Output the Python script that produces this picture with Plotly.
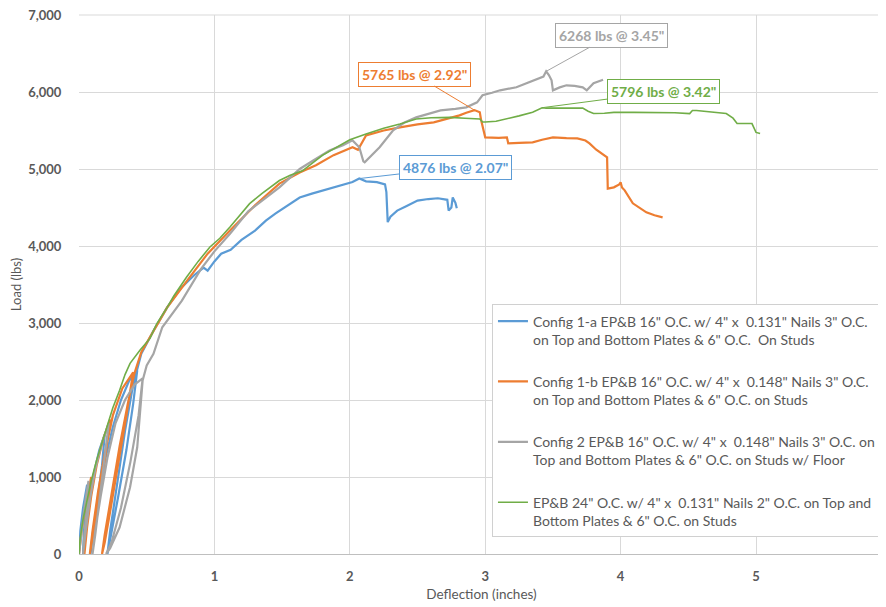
import plotly.graph_objects as go

# ---------------- data ----------------
blue_x = [0, 0.01, 0.03, 0.06, 0.05, 0.035, 0.03,
          0.04, 0.07, 0.11, 0.15, 0.19, 0.17, 0.13, 0.10, 0.085,
          0.10, 0.14, 0.19, 0.25, 0.31, 0.37, 0.43, 0.40, 0.35, 0.29, 0.24, 0.21,
          0.23, 0.28, 0.34, 0.40, 0.46, 0.55, 0.65, 0.75, 0.85, 0.92, 0.95, 1.00,
          1.05, 1.12, 1.20, 1.30, 1.38, 1.45, 1.55, 1.63, 1.72, 1.80, 1.88, 1.95,
          2.02, 2.07, 2.12, 2.20, 2.26, 2.27, 2.28, 2.30, 2.35, 2.42, 2.50, 2.58,
          2.65, 2.72, 2.73, 2.75, 2.76, 2.78, 2.79]
blue_y = [0, 300, 600, 900, 600, 250, 0,
          250, 650, 1050, 1350, 1550, 1150, 600, 200, 0,
          250, 700, 1200, 1650, 2000, 2250, 2385, 1950, 1350, 750, 300, 0,
          300, 900, 1600, 2200, 2600, 2900, 3200, 3450, 3620, 3720, 3680, 3800,
          3900, 3950, 4080, 4200, 4330, 4420, 4540, 4630, 4680, 4720, 4760, 4800,
          4830, 4876, 4840, 4830, 4800, 4700, 4310, 4380, 4460, 4520, 4590, 4610,
          4620, 4600, 4460, 4500, 4630, 4560, 4490]

orange_x = [0, 0.02, 0.05, 0.09, 0.07, 0.05, 0.04,
            0.06, 0.09, 0.13, 0.18, 0.23, 0.19, 0.14, 0.10, 0.08,
            0.10, 0.14, 0.19, 0.25, 0.32, 0.40, 0.35, 0.29, 0.23, 0.19, 0.17,
            0.19, 0.24, 0.30, 0.36, 0.41, 0.46, 0.55, 0.65, 0.80, 0.95, 1.115, 1.30,
            1.48, 1.63, 1.75, 1.88, 2.02, 2.06, 2.12, 2.25, 2.37, 2.50, 2.62, 2.72,
            2.81, 2.86, 2.92, 2.96, 2.97, 3.00, 3.10, 3.16, 3.17, 3.25, 3.35, 3.42,
            3.50, 3.60, 3.68, 3.74, 3.77, 3.82, 3.86, 3.90, 3.905, 3.95, 3.99, 4.00,
            4.01, 4.03, 4.09, 4.14, 4.19, 4.25, 4.31]
orange_y = [0, 300, 650, 1000, 650, 300, 0,
            350, 750, 1150, 1500, 1750, 1200, 600, 200, 0,
            300, 800, 1300, 1800, 2150, 2360, 1800, 1150, 550, 150, 0,
            250, 800, 1400, 1950, 2350, 2620, 2900, 3200, 3554, 3900, 4200, 4530,
            4810, 4955, 5050, 5180, 5282, 5250, 5435, 5500, 5541, 5580, 5606, 5650,
            5697, 5730, 5765, 5736, 5632, 5411, 5405, 5411, 5333, 5340, 5346, 5380,
            5411, 5400, 5398, 5370, 5333, 5250, 5200, 5150, 4746, 4762, 4800, 4827,
            4760, 4723, 4554, 4490, 4437, 4400, 4372]

gray_x = [0, 0.02, 0.04, 0.07, 0.06, 0.04, 0.03,
          0.05, 0.08, 0.12, 0.17, 0.22, 0.19, 0.15, 0.12, 0.10,
          0.12, 0.16, 0.21, 0.27, 0.34, 0.41, 0.47, 0.44, 0.38, 0.31, 0.24, 0.20,
          0.23, 0.30, 0.377, 0.43, 0.47, 0.50, 0.55, 0.615, 0.76, 0.90, 1.00, 1.115,
          1.25, 1.48, 1.63, 1.73, 1.85, 1.95, 2.02, 2.07, 2.10, 2.11, 2.16, 2.22,
          2.32, 2.40, 2.49, 2.58, 2.67, 2.78, 2.86, 2.94, 2.98, 3.05, 3.11, 3.23,
          3.32, 3.40, 3.43, 3.45, 3.47, 3.49, 3.50, 3.55, 3.60, 3.66, 3.72, 3.75,
          3.78, 3.80, 3.86, 3.87]
gray_y = [0, 300, 600, 950, 600, 250, 0,
          300, 700, 1100, 1450, 1700, 1250, 700, 250, 0,
          300, 750, 1250, 1700, 2000, 2200, 2280, 1800, 1200, 600, 150, 0,
          75, 347, 867, 1386, 2254, 2450, 2600, 2945, 3290, 3700, 3930, 4160,
          4450, 4762, 5000, 5110, 5240, 5310, 5372, 5282, 5100, 5087, 5180, 5282,
          5502, 5600, 5671, 5720, 5762, 5780, 5801, 5866, 5957, 5990, 6022, 6061,
          6120, 6178, 6200, 6268, 6220, 6152, 6022, 6060, 6087, 6080, 6061, 6022,
          6070, 6113, 6152, 6160]

green_x = [0, 0.007, 0.03, 0.057, 0.09, 0.13, 0.17, 0.204, 0.25, 0.30, 0.34, 0.377,
           0.45, 0.524, 0.574, 0.65, 0.70, 0.795, 0.88, 0.967, 1.04, 1.115, 1.19, 1.26,
           1.35, 1.48, 1.56, 1.65, 1.80, 1.90, 2.00, 2.12, 2.25, 2.37, 2.49, 2.60,
           2.74, 2.85, 2.96, 2.98, 3.00, 3.08, 3.16, 3.25, 3.35, 3.42, 3.45, 3.55,
           3.65, 3.72, 3.76, 3.80, 3.88, 3.95, 4.10, 4.31, 4.40, 4.51, 4.53, 4.56,
           4.65, 4.78, 4.83, 4.86, 4.97, 5.00, 5.03]
green_y = [0, 177, 450, 697, 950, 1217, 1450, 1650, 1900, 2126, 2330, 2476,
           2645, 2800, 2990, 3200, 3350, 3597, 3800, 3987, 4100, 4247, 4400, 4550,
           4680, 4850, 4920, 4977, 5180, 5280, 5380, 5455, 5530, 5585, 5650, 5665,
           5670, 5660, 5650, 5610, 5610, 5620, 5650, 5690, 5736, 5796, 5790, 5790,
           5790, 5790, 5750, 5720, 5725, 5736, 5736, 5736, 5730, 5720, 5760, 5760,
           5740, 5720, 5660, 5590, 5590, 5475, 5460]

series_names = [
    'Config 1-a EP&B 16" O.C. w/ 4" x  0.131" Nails 3" O.C.<br>on Top and Bottom Plates & 6" O.C.  On Studs',
    'Config 1-b EP&B 16" O.C. w/ 4" x  0.148" Nails 3" O.C.<br>on Top and Bottom Plates & 6" O.C. on Studs',
    'Config 2 EP&B 16" O.C. w/ 4" x  0.148" Nails 3" O.C. on<br>Top and Bottom Plates & 6" O.C. on Studs w/ Floor',
    'EP&B 24" O.C. w/ 4" x  0.131" Nails 2" O.C. on Top and<br>Bottom Plates & 6" O.C. on Studs',
]
colors = ["#5B9BD5", "#ED7D31", "#A5A5A5", "#70AD47"]
widths = [2.2, 2.2, 2.2, 1.6]

# peak callouts: (x, y, label, series index, ax, ay)
peaks = [
    (2.07, 4876, '4876 lbs @ 2.07"', 0, 96, -11),
    (2.92, 5765, '5765 lbs @ 2.92"', 1, -60, -36),
    (3.45, 6268, '6268 lbs @ 3.45"', 2, 65, -36),
    (3.42, 5796, '5796 lbs @ 3.42"', 3, 121, -16),
]

y_ticks = [0, 1000, 2000, 3000, 4000, 5000, 6000, 7000]
x_ticks = [0, 1, 2, 3, 4, 5]

# ---------------- figure ----------------
fig = go.Figure()
xs = [blue_x, orange_x, gray_x, green_x]
ys = [blue_y, orange_y, gray_y, green_y]
for i in range(4):
    fig.add_trace(go.Scatter(
        x=xs[i], y=ys[i], mode="lines", name=series_names[i],
        line=dict(color=colors[i], width=widths[i]),
        legendgroup=f"g{i}",
    ))

for (px, py, label, si, ax, ay) in peaks:
    fig.add_annotation(
        x=px, y=py, text=f"<b>{label}</b>", showarrow=True, arrowhead=0,
        arrowwidth=1, arrowcolor=colors[si], ax=ax, ay=ay,
        font=dict(family="Lato", size=14, color=colors[si]),
        bordercolor=colors[si], borderwidth=1, borderpad=3, bgcolor="white",
    )

# top gridline of the plot frame (at the 7,000 level)
fig.add_shape(type="line", xref="paper", yref="paper", x0=0, x1=1, y0=1, y1=1,
              line=dict(color="#D9D9D9", width=1), layer="below")

# page body has an 8px default margin, so the figure is sized to fit 886x607
fig.update_layout(
    width=878, height=599,
    margin=dict(l=71, r=2, t=7, b=53),
    paper_bgcolor="white", plot_bgcolor="white",
    font=dict(family="Lato", size=13, color="#595959"),
    showlegend=True,
    legend=dict(
        x=0.513, y=0.463, xanchor="left", yanchor="top",
        bordercolor="#D0D0D0", borderwidth=1, bgcolor="white",
        font=dict(family="Lato", size=14, color="#595959"),
        traceorder="grouped", tracegroupgap=21, valign="top",
    ),
    xaxis=dict(
        range=[0, 5.945], tickvals=x_ticks, ticktext=[f"<b>{t}</b>" for t in x_ticks],
        showgrid=True, gridcolor="#D9D9D9", gridwidth=1,
        showline=True, linecolor="#BFBFBF", linewidth=1,
        zeroline=False, ticks="outside", ticklen=10, tickcolor="rgba(0,0,0,0)",
        tickfont=dict(family="Lato", size=13, color="#595959"),
        automargin=False, ticklabeloverflow="allow",
        title=dict(text="Deflection (inches)", standoff=6,
                   font=dict(family="Lato", size=13.5, color="#595959")),
    ),
    yaxis=dict(
        range=[0, 7000], tickvals=y_ticks,
        ticktext=[f"<b>{t:,}</b>" for t in y_ticks],
        showgrid=True, gridcolor="#D9D9D9", gridwidth=1,
        zeroline=False, showline=False,
        ticks="outside", ticklen=14, tickcolor="rgba(0,0,0,0)",
        tickfont=dict(family="Lato", size=13, color="#595959"),
        automargin=False, ticklabeloverflow="allow",
        title=dict(text="Load (lbs)", standoff=8,
                   font=dict(family="Lato", size=13, color="#595959")),
    ),
)

fig.write_html("out.html")
